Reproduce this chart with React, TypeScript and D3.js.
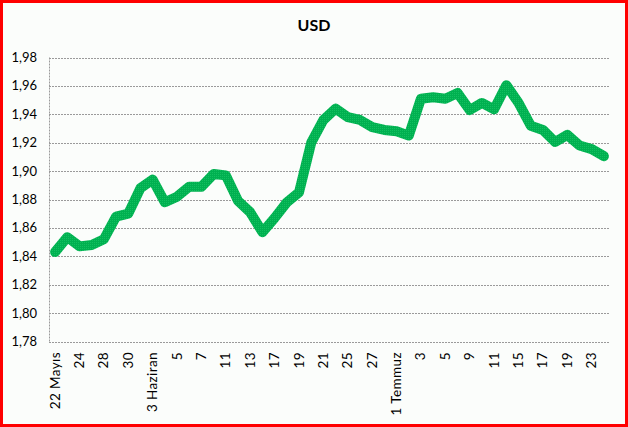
import React from "react";
import * as d3 from "d3";

const categories: string[] = [
  "22 Mayıs", "23", "24", "27", "28", "29", "30", "31",
  "3 Haziran", "4", "5", "6", "7", "10", "11", "12", "13", "14", "17", "18", "19", "20", "21", "24", "25", "26", "27", "28",
  "1 Temmuz", "2", "3", "4", "5", "8", "9", "10", "11", "12", "15", "16", "17", "18", "19", "22", "23", "24",
];

const usdValues: number[] = [
  1.843, 1.8535, 1.847, 1.848, 1.852, 1.868, 1.870, 1.888,
  1.894, 1.878, 1.882, 1.889, 1.889, 1.898, 1.897, 1.879, 1.871, 1.857, 1.867, 1.878, 1.885, 1.920, 1.936, 1.944, 1.938, 1.936, 1.931, 1.929,
  1.928, 1.925, 1.951, 1.952, 1.951, 1.955, 1.943, 1.948, 1.9435, 1.9605, 1.948, 1.932, 1.929, 1.9205, 1.9255, 1.918, 1.9155, 1.9105,
];

const yTicks: number[] = [1.78, 1.8, 1.82, 1.84, 1.86, 1.88, 1.9, 1.92, 1.94, 1.96, 1.98];
const title = "USD";

export default function App() {
  const W = 628, H = 427;
  const left = 49, right = 610, top = 57.5, bottom = 341.5;

  const x = d3.scaleBand<number>().domain(d3.range(categories.length)).range([left, right]);
  const y = d3.scaleLinear().domain([1.78, 1.98]).range([bottom, top]);
  const line = d3.line<number>()
    .x((_, i) => (x(i) as number) + x.bandwidth() / 2)
    .y((d) => y(d));

  const fmt = (v: number) => v.toFixed(2).replace(".", ",");
  const font = "Lato, 'Open Sans', sans-serif";

  return (
    <svg width={W} height={H} style={{ position: "absolute", left: 0, top: 0 }} fontFamily={font}>
      <defs>
        <pattern id="dots" width="2" height="2" patternUnits="userSpaceOnUse">
          <rect width="2" height="2" fill="#00b050" />
          <rect width="1" height="1" fill="#12c060" />
        </pattern>
      </defs>
      <rect x={0} y={0} width={W} height={H} fill="#fbfdfb" />
      <rect x={1.5} y={1.5} width={W - 3} height={H - 3} fill="none" stroke="#ff0000" strokeWidth={3} />
      <text x={314} y={31} textAnchor="middle" fontSize={16} fontWeight="bold" fill="#000">{title}</text>
      {yTicks.map((t) => (
        <g key={t}>
          {t > 1.78 && (
            <line x1={left} x2={right} y1={Math.round(y(t)) + 0.5} y2={Math.round(y(t)) + 0.5}
              stroke="#9a9a9a" strokeWidth={1} strokeDasharray="2,1" />
          )}
          <text x={37} y={y(t) + 4.5} textAnchor="end" fontSize={13} fill="#000">{fmt(t)}</text>
        </g>
      ))}
      <line x1={left + 0.5} x2={left + 0.5} y1={top} y2={bottom} stroke="#9a9a9a" strokeDasharray="2,1" />
      <line x1={left} x2={right} y1={Math.round(bottom) + 0.5} y2={Math.round(bottom) + 0.5} stroke="#9a9a9a" strokeDasharray="2,1" />
      {categories.map((c, i) => i % 2 === 0 ? (
        <text key={i}
          transform={`translate(${(x(i) as number) + x.bandwidth() / 2 + 4.5},352) rotate(-90)`}
          textAnchor="end" fontSize={13.5} letterSpacing={0.4} fill="#000">{c}</text>
      ) : null)}
      <path d={line(usdValues) || ""} fill="none" stroke="url(#dots)" strokeWidth={10}
        strokeLinejoin="round" strokeLinecap="round" />
    </svg>
  );
}
